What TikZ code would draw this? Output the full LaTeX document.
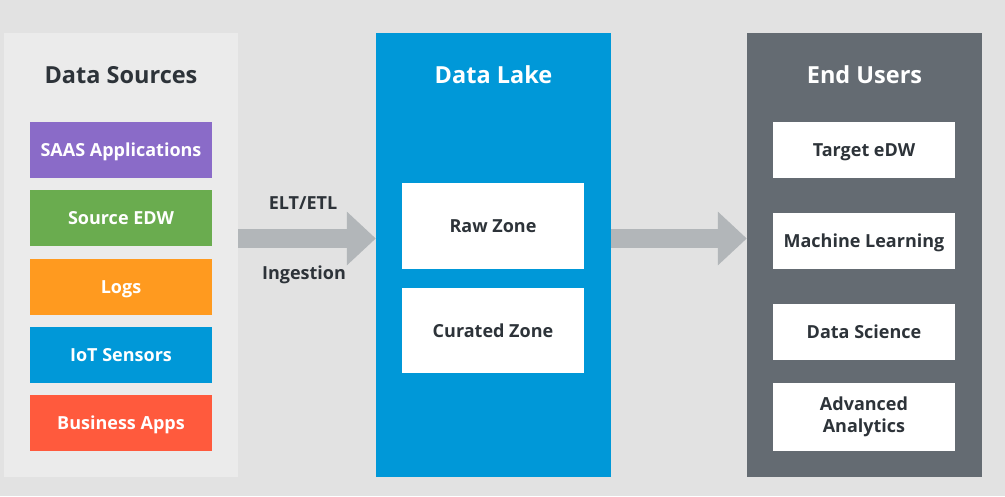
\documentclass[tikz,border=0pt]{standalone}
\usepackage{fontspec}
\setmainfont{Open Sans}
\usetikzlibrary{arrows.meta}
\definecolor{bg}{HTML}{E2E2E2}
\definecolor{panelL}{HTML}{EBEBEB}
\definecolor{lakeblue}{HTML}{0098D8}
\definecolor{panelR}{HTML}{646B72}
\definecolor{cpurple}{HTML}{8A6BC8}
\definecolor{cgreen}{HTML}{6AAC4F}
\definecolor{corange}{HTML}{FF9A1F}
\definecolor{cblue}{HTML}{0098D8}
\definecolor{cred}{HTML}{FF5A3D}
\definecolor{arrowgray}{HTML}{B2B6B9}
\definecolor{darktext}{HTML}{2D3339}
\begin{document}
\begin{tikzpicture}[x=1pt,y=-1pt,
  panel/.style={rectangle,inner sep=0pt,draw=none},
  title/.style={font=\bfseries\fontsize{23.5}{28}\selectfont},
  srcbox/.style={rectangle,inner sep=0pt,minimum width=182pt,minimum height=56pt,text=white,font=\bfseries\fontsize{18}{21}\selectfont},
  whitebox/.style={rectangle,inner sep=0pt,fill=white,minimum width=182pt,text=darktext,align=center,font=\bfseries\fontsize{18}{22}\selectfont},
  fatarrow/.style={draw=arrowgray,line width=19pt,-{Triangle[width=52pt,length=29pt]}},
  lbl/.style={text=darktext,font=\bfseries\fontsize{18}{21}\selectfont}]
\fill[bg] (0,0) rectangle (1005,496);
\useasboundingbox (0,0) rectangle (1005,496);
% panels
\node[panel,fill=panelL,minimum width=234pt,minimum height=444pt] (src) at (121,255) {};
\node[panel,fill=lakeblue,minimum width=235pt,minimum height=444pt] (lake) at (493.5,255) {};
\node[panel,fill=panelR,minimum width=235pt,minimum height=444pt] (users) at (864.5,255) {};
% titles
\node[title,text=darktext] (srcT) at (121,75) {Data Sources};
\node[title,text=white] (lakeT) at (493.5,75) {Data Lake};
\node[title,text=white] (usersT) at (864.5,75) {End Users};
% sources
\node[srcbox,fill=cpurple] (saas) at (121,149.5) {};
\node[srcbox,fill=cgreen] (edw) at (121,218) {};
\node[srcbox,fill=corange] (logs) at (121,286.5) {};
\node[srcbox,fill=cblue] (iot) at (121,355) {};
\node[srcbox,fill=cred] (biz) at (121,423) {};
\node[srcbox,anchor=base] at ([yshift=-6.5pt]saas.center) {SAAS Applications};
\node[srcbox,anchor=base] at ([yshift=-6.5pt]edw.center) {Source EDW};
\node[srcbox,anchor=base] at ([yshift=-6.5pt]logs.center) {Logs};
\node[srcbox,anchor=base] at ([yshift=-6.5pt]iot.center) {IoT Sensors};
\node[srcbox,anchor=base] at ([yshift=-6.5pt]biz.center) {Business Apps};
% lake zones
\node[whitebox,minimum height=86pt] (raw) at (493,226) {};
\node[whitebox,minimum height=85pt] (cur) at (493,330.5) {};
\node[whitebox,minimum height=0pt,fill=none,anchor=base] at ([yshift=-6.5pt]raw.center) {Raw Zone};
\node[whitebox,minimum height=0pt,fill=none,anchor=base] at ([yshift=-6.5pt]cur.center) {Curated Zone};
% end users
\node[whitebox,minimum height=56pt] (tgt) at (864,149.5) {};
\node[whitebox,minimum height=56pt] (ml) at (864,241) {};
\node[whitebox,minimum height=56pt] (ds) at (864,332) {};
\node[whitebox,minimum height=68pt] (aa) at (864,417) {};
\node[whitebox,minimum height=0pt,fill=none,anchor=base] at ([yshift=-6.5pt]tgt.center) {Target eDW};
\node[whitebox,minimum height=0pt,fill=none,anchor=base] at ([yshift=-6.5pt]ml.center) {Machine Learning};
\node[whitebox,minimum height=0pt,fill=none,anchor=base] at ([yshift=-6.5pt]ds.center) {Data Science};
\node[whitebox,minimum height=0pt,fill=none] at (aa.center) {Advanced\\Analytics};
% arrows
\coordinate (a1s) at (src.east |- 0,238.5);
\coordinate (a1e) at (lake.west |- 0,238.5);
\coordinate (a2s) at (lake.east |- 0,238.5);
\coordinate (a2e) at (users.west |- 0,238.5);
\draw[fatarrow] (a1s) -- (a1e);
\draw[fatarrow] (a2s) -- (a2e);
\node[lbl] (elt) at (303,203) {ELT/ETL};
\node[lbl] (ing) at (304,275) {Ingestion};
\end{tikzpicture}
\end{document}
